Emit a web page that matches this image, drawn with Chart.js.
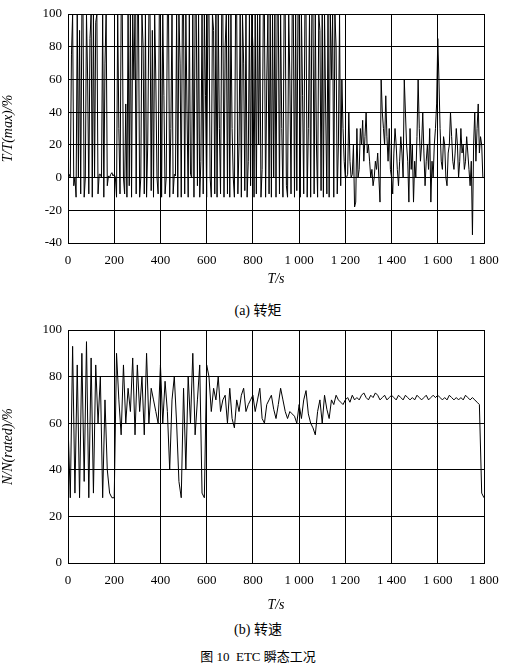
<!DOCTYPE html>
<html>
<head>
<meta charset="utf-8">
<script src="https://cdn.jsdelivr.net/npm/chart.js@4/dist/chart.umd.min.js"></script>
<style>
body { margin: 0; background: #fff; width: 516px; height: 669px; position: relative; font-family: "Liberation Serif", "Noto Sans CJK SC", serif; }
.box { position: absolute; left: 0; width: 516px; }
.cap { position: absolute; left: 0; width: 516px; text-align: center; font-size: 14px; color: #000; }
</style>
</head>
<body>
<div class="box" style="top:0;height:290px"><canvas id="torqueChart"></canvas></div>
<div class="cap" style="top:299px">(a) 转矩</div>
<div class="box" style="top:316px;height:300px"><canvas id="speedChart"></canvas></div>
<div class="cap" style="top:618px">(b) 转速</div>
<div class="cap" style="top:646px;font-size:13px">图 10&nbsp;&nbsp;ETC 瞬态工况</div>
<script>
// torque, % of max, one value every 5 s from 0 to 1800 s
const torqueStep = 5;
const torque = [
    0,2,0,75,100,-5,0,-12,100,0,90,-10,100,100,-12,0,100,60,-10,85,
    100,-12,100,0,95,100,-10,2,2,0,100,-12,70,100,-5,1,0,2,3,1,
    2,0,-12,100,30,-10,100,100,0,-10,45,-12,100,-5,100,-12,100,60,100,-10,
    100,100,-12,0,100,80,-10,100,-12,20,100,100,-8,90,-12,100,60,0,-10,100,
    100,-12,100,50,-10,0,100,100,-12,30,100,-10,2,1,100,-12,100,70,-12,100,
    100,-10,100,40,-12,100,2,0,100,-12,100,100,-5,100,-12,10,100,-10,100,50,
    -12,100,100,0,-12,100,90,-10,100,-12,100,30,-10,100,100,-12,80,100,-10,100,
    -12,100,30,0,-12,100,100,-10,20,100,-12,100,70,-8,100,-12,10,100,-5,100,
    80,-12,100,-10,100,20,100,-12,5,100,100,-12,60,100,-10,100,-12,100,0,100,
    -12,100,100,-10,100,30,-12,100,100,-5,-12,100,60,-10,100,100,-12,100,-8,100,
    100,-12,100,50,-10,100,100,-12,30,100,-12,100,100,-10,100,20,-12,100,90,-8,
    100,-12,100,40,-10,100,-12,100,60,100,-12,100,80,-10,20,100,-5,60,30,10,
    0,0,2,40,10,0,2,20,-18,-15,30,
    0,5,30,20,35,10,25,40,15,20,10,0,5,-5,0,10,5,15,0,-15,
    60,40,30,20,50,25,10,30,5,0,-10,15,30,20,5,-5,10,25,15,0,
    60,40,20,10,-15,30,5,20,-15,10,0,25,60,30,10,20,40,15,-5,10,
    20,5,30,-15,10,0,20,30,45,85,60,30,10,5,25,20,0,-5,15,20,
    40,25,10,5,15,30,20,0,10,30,15,20,5,10,25,15,5,-5,10,-35,
    20,40,10,30,45,15,25,20,0,0
];

// speed, % of rated, one value every 10 s from 0 to 1800 s
const speedStep = 10;
const speed = [
    60,28,93,30,85,28,90,35,95,28,
    88,30,85,60,80,28,70,40,30,28,
    28,90,70,55,85,60,75,65,88,55,
    85,65,80,55,90,60,75,70,65,60,
    85,60,78,65,40,70,80,60,35,28,
    75,40,80,60,90,55,70,85,30,28,
    85,80,65,75,70,80,65,70,72,60,
    75,62,58,70,65,72,75,65,68,70,
    72,65,70,75,62,60,68,70,72,66,
    62,68,75,70,65,62,65,64,63,60,
    68,62,70,74,64,60,58,55,65,70,
    60,72,66,62,70,68,72,70,69,68,
    70,71,69,72,70,71,70,72,73,71,
    70,72,71,73,72,70,71,72,70,71,
    72,71,70,72,71,70,72,71,70,71,
    70,72,71,70,71,72,70,71,72,71,
    72,71,70,71,70,72,71,70,71,70,
    71,70,72,71,70,71,70,69,68,30,
    28
];

const font = { family: "'Liberation Serif', serif", size: 13 };

function toPoints(values, step) {
    return values.map((v, i) => ({ x: i * step, y: v }));
}

function fmtTime(v) {
    return v >= 1000 ? Math.floor(v / 1000) + " " + String(v % 1000).padStart(3, "0") : String(v);
}

function makeChart(id, points, yMin, yMax, yTitle, xHeight) {
    return new Chart(document.getElementById(id), {
        type: 'line',
        data: {
            datasets: [{
                data: points,
                borderColor: '#000',
                borderWidth: 1,
                pointRadius: 0,
                tension: 0
            }]
        },
        options: {
            animation: false,
            responsive: true,
            maintainAspectRatio: false,
            layout: { padding: { top: 14, right: 32, left: 0, bottom: 0 } },
            plugins: { legend: { display: false }, tooltip: { enabled: false } },
            scales: {
                x: {
                    type: 'linear', min: 0, max: 1800,
                    ticks: { stepSize: 200, color: '#000', font: font, callback: fmtTime, maxRotation: 0, padding: 10 },
                    grid: { color: '#000', lineWidth: 1, drawTicks: false },
                    border: { color: '#000' },
                    title: { display: true, text: 'T/s', color: '#000', font: { family: font.family, size: 14, style: 'italic' }, padding: 2 },
                    afterFit: s => { s.height = xHeight; }
                },
                y: {
                    min: yMin, max: yMax,
                    ticks: { stepSize: 20, color: '#000', font: font, padding: 6 },
                    grid: { color: '#000', lineWidth: 1, drawTicks: false },
                    border: { color: '#000' },
                    title: { display: true, text: yTitle, color: '#000', font: { family: font.family, size: 14, style: 'italic' }, padding: 0 },
                    afterFit: s => { s.width = 68; }
                }
            }
        }
    });
}

makeChart('torqueChart', toPoints(torque, torqueStep), -40, 100, 'T/T(max)/%', 47);
makeChart('speedChart', toPoints(speed, speedStep), 0, 100, 'N/N(rated)/%', 53);
</script>
</body>
</html>
